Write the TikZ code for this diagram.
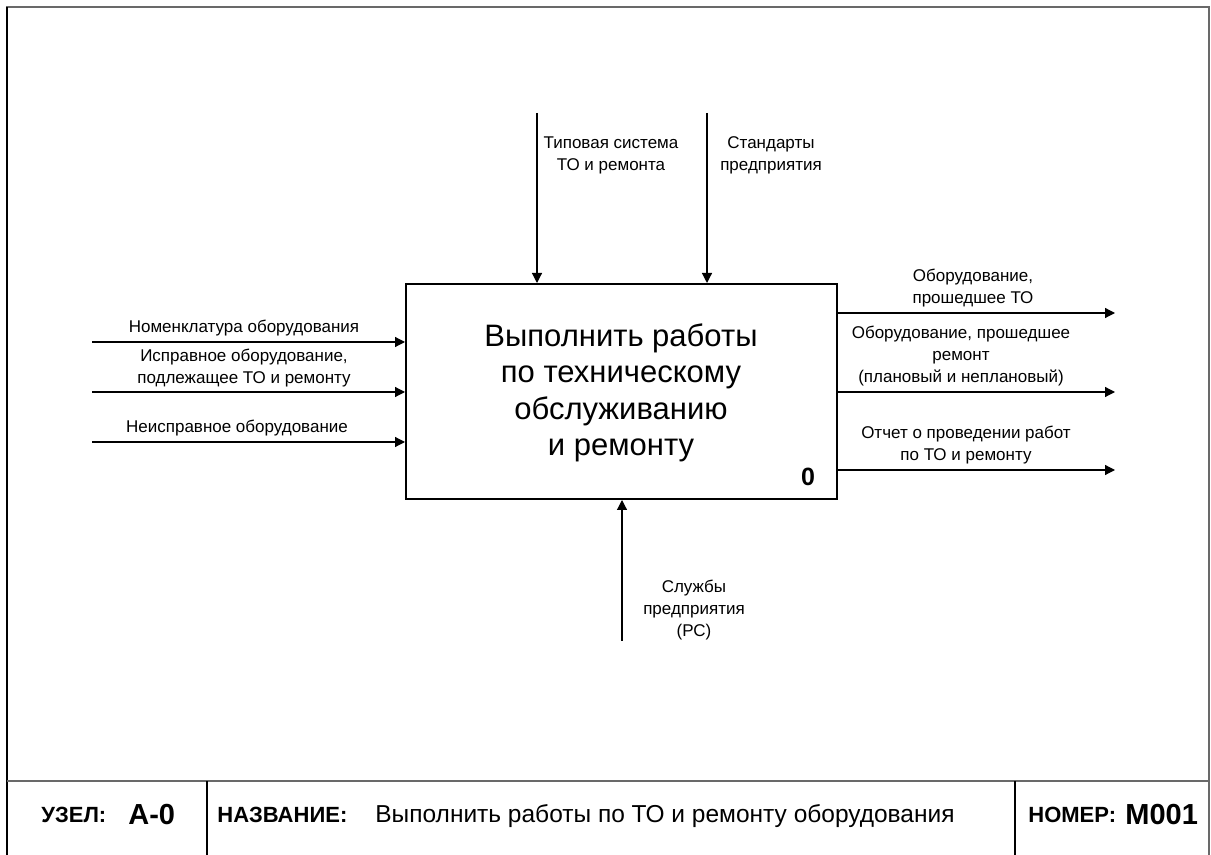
\documentclass[tikz,border=0pt]{standalone}
\usepackage{fontspec}
\setmainfont{Liberation Sans}
\usetikzlibrary{arrows.meta}
\definecolor{frameGray}{RGB}{105,105,105}

\begin{document}
\begin{tikzpicture}[
  x=0.5pt, y=-0.5pt,
  >={Triangle[length=5pt,width=5pt]},
  lbl/.style={
    font=\fontsize{8.5}{11}\selectfont,
    align=center,
    inner sep=0pt,
  },
  func/.style={
    draw,
    line width=1pt,
    minimum width=215.5pt,
    minimum height=107.5pt,
    inner sep=0pt,
  },
  flow/.style={
    ->,
    line width=0.6pt,
  },
  foot/.style={
    font=\fontsize{12.25}{14}\selectfont,
    inner sep=0pt,
    anchor=west,
  },
  footkey/.style={
    font=\fontsize{11}{13}\selectfont\bfseries,
    inner sep=0pt,
    anchor=west,
  },
  footval/.style={
    font=\fontsize{14.5}{16}\selectfont\bfseries,
    inner sep=0pt,
    anchor=west,
  },
]

  \useasboundingbox (0,0) rectangle (1211,855);

  % frame and footer
  \draw[frameGray, line width=1.2pt] (7,856) -- (7,7) -- (1209,7) -- (1209,856);
  \draw[black, line width=0.6pt] (7,856) -- (7,7);
  \draw[frameGray, line width=0.7pt] (7,781) -- (1209,781);
  \draw[line width=0.6pt] (207,781) -- (207,856);
  \draw[line width=0.6pt] (1015,781) -- (1015,856);

  \node[footkey] (nodekey) at (41,815) {УЗЕЛ:};
  \node[footval] (nodeval) at (128,815) {А-0};
  \node[footkey] (titlekey) at (217,815) {НАЗВАНИЕ:};
  \node[foot] (titleval) at (375,816) {Выполнить работы по ТО и ремонту оборудования};
  \node[footkey] (numkey) at (1028,815) {НОМЕР:};
  \node[footval] (numval) at (1125,815) {M001};

  % function block
  \node[func] (fn) at (621.5,391.5) {};
  \node[font=\fontsize{15.5}{18.2}\selectfont, align=center, inner sep=0pt]
    (fntext) at (621,393)
    {Выполнить работы\\по техническому\\обслуживанию\\и ремонту};
  \node[font=\fontsize{12.5}{14}\selectfont\bfseries, inner sep=0pt]
    (fnnum) at (808,477) {0};

  % inputs
  \coordinate (in1) at (92,342);
  \coordinate (in2) at (92,392);
  \coordinate (in3) at (92,442);
  \draw[flow] (in1) -- (in1 -| fn.west);
  \draw[flow] (in2) -- (in2 -| fn.west);
  \draw[flow] (in3) -- (in3 -| fn.west);
  \node[lbl] (lin1) at (244,328) {Номенклатура оборудования};
  \node[lbl] (lin2) at (244,368) {Исправное оборудование,\\подлежащее ТО и ремонту};
  \node[lbl] (lin3) at (237,428) {Неисправное оборудование};

  % outputs
  \coordinate (out1) at (1115,313);
  \coordinate (out2) at (1115,392);
  \coordinate (out3) at (1115,470);
  \draw[flow] (out1 -| fn.east) -- (out1);
  \draw[flow] (out2 -| fn.east) -- (out2);
  \draw[flow] (out3 -| fn.east) -- (out3);
  \node[lbl] (lout1) at (973,288) {Оборудование,\\прошедшее ТО};
  \node[lbl] (lout2) at (961,356) {Оборудование, прошедшее\\ремонт\\(плановый и неплановый)};
  \node[lbl] (lout3) at (966,445) {Отчет о проведении работ\\по ТО и ремонту};

  % controls
  \coordinate (ctl1) at (537,113);
  \coordinate (ctl2) at (707,113);
  \draw[flow] (ctl1) -- (ctl1 |- fn.north);
  \draw[flow] (ctl2) -- (ctl2 |- fn.north);
  \node[lbl] (lctl1) at (611,155) {Типовая система\\ТО и ремонта};
  \node[lbl] (lctl2) at (771,155) {Стандарты\\предприятия};

  % mechanism
  \coordinate (mech) at (622,641);
  \draw[flow] (mech) -- (mech |- fn.south);
  \node[lbl] (lmech) at (694,610) {Службы\\предприятия\\(РС)};

\end{tikzpicture}
\end{document}
